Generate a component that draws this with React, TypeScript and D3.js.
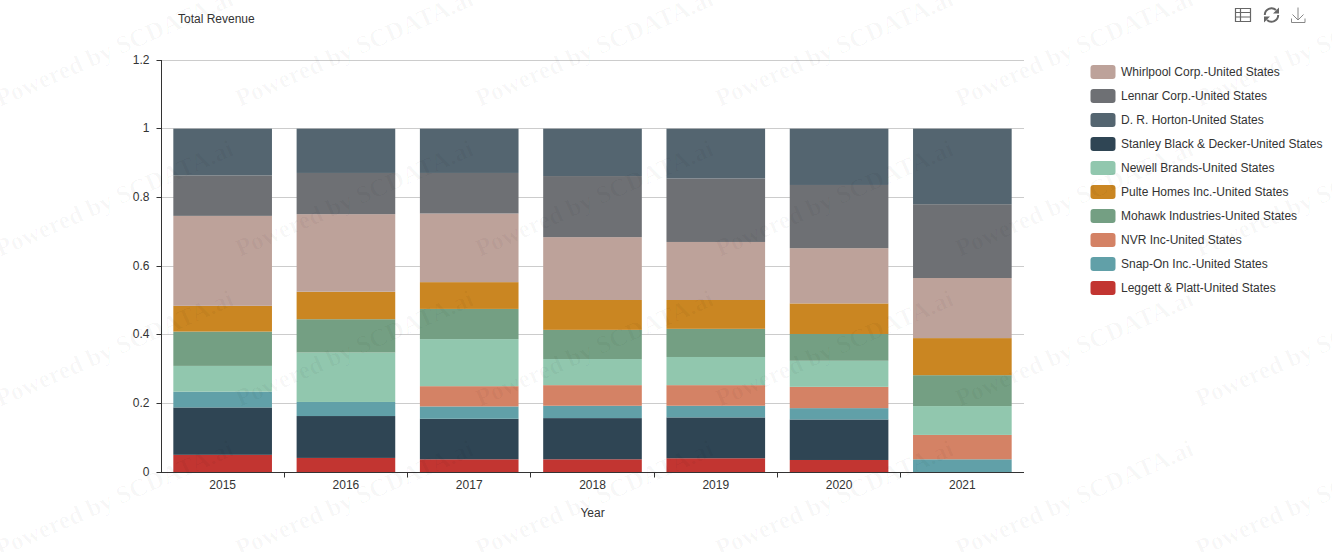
import { useEffect, useRef } from 'react'
import * as d3 from 'd3'

const years = ['2015', '2016', '2017', '2018', '2019', '2020', '2021']

const leggett = [0.050, 0.041, 0.037, 0.037, 0.040, 0.035, 0]
const stanley = [0.138, 0.122, 0.118, 0.120, 0.119, 0.118, 0]
const snapOn = [0.046, 0.041, 0.036, 0.036, 0.034, 0.033, 0.037]
const nvr = [0, 0, 0.059, 0.060, 0.060, 0.062, 0.071]
const newell = [0.075, 0.144, 0.137, 0.076, 0.082, 0.076, 0.084]
const mohawk = [0.100, 0.097, 0.088, 0.085, 0.082, 0.078, 0.090]
const pulte = [0.075, 0.080, 0.078, 0.087, 0.084, 0.089, 0.108]
const whirlpool = [0.262, 0.226, 0.200, 0.183, 0.169, 0.161, 0.175]
const lennar = [0.118, 0.120, 0.118, 0.178, 0.185, 0.184, 0.215]
const horton = [0.136, 0.129, 0.129, 0.138, 0.145, 0.164, 0.220]

// bottom to top, as stacked
const stackOrder = ['leggett', 'stanley', 'snapOn', 'nvr', 'newell', 'mohawk', 'pulte', 'whirlpool', 'lennar', 'horton']
const seriesValues: Record<string, number[]> = { leggett, stanley, snapOn, nvr, newell, mohawk, pulte, whirlpool, lennar, horton }

const legendKeys = ['whirlpool', 'lennar', 'horton', 'stanley', 'newell', 'pulte', 'mohawk', 'nvr', 'snapOn', 'leggett']
const seriesNames: Record<string, string> = {
  whirlpool: 'Whirlpool Corp.-United States',
  lennar: 'Lennar Corp.-United States',
  horton: 'D. R. Horton-United States',
  stanley: 'Stanley Black & Decker-United States',
  newell: 'Newell Brands-United States',
  pulte: 'Pulte Homes Inc.-United States',
  mohawk: 'Mohawk Industries-United States',
  nvr: 'NVR Inc-United States',
  snapOn: 'Snap-On Inc.-United States',
  leggett: 'Leggett & Platt-United States'
}
const seriesColors: Record<string, string> = {
  whirlpool: '#bda29a',
  lennar: '#6e7074',
  horton: '#546570',
  stanley: '#2f4554',
  newell: '#91c7ae',
  pulte: '#ca8622',
  mohawk: '#749f83',
  nvr: '#d48265',
  snapOn: '#61a0a8',
  leggett: '#c23531'
}

const yTicks = [0, 0.2, 0.4, 0.6, 0.8, 1, 1.2]

const width = 1332
const height = 552
const fontFamily = '"Liberation Sans", Arial, sans-serif'

// crisp 1px lines
const snap = (v: number) => Math.floor(v) + 0.5

export default function App() {
  const svgRef = useRef<SVGSVGElement>(null)

  useEffect(() => {
    if (!svgRef.current) return

    const svg = d3.select(svgRef.current)
    svg.selectAll('*').remove()
    svg.attr('font-family', fontFamily)

    const xScale = d3.scaleBand()
      .domain(years)
      .range([161, 1024])
      .paddingInner(0.2)
      .paddingOuter(0.1)

    const yScale = d3.scaleLinear()
      .domain([0, 1.2])
      .range([472, 60])

    svg.append('text')
      .attr('x', 178)
      .attr('y', 23)
      .attr('font-size', 12)
      .attr('fill', '#333')
      .text('Total Revenue')

    // grid
    svg.append('g')
      .selectAll('line')
      .data(yTicks.filter(d => d > 0))
      .enter().append('line')
      .attr('x1', 161.5)
      .attr('x2', 1024)
      .attr('y1', d => snap(yScale(d)))
      .attr('y2', d => snap(yScale(d)))
      .attr('stroke', '#ccc')

    // stacked bars
    const rows = years.map((year, i) => {
      const row: Record<string, number | string> = { year }
      stackOrder.forEach(k => { row[k] = seriesValues[k][i] })
      return row
    })
    const stacked = d3.stack<Record<string, number | string>>().keys(stackOrder)(rows as any)

    svg.append('g')
      .selectAll('g')
      .data(stacked)
      .enter().append('g')
      .attr('fill', d => seriesColors[d.key])
      .selectAll('rect')
      .data(d => d)
      .enter().append('rect')
      .attr('x', d => xScale(d.data.year as string) || 0)
      .attr('y', d => yScale(d[1]))
      .attr('width', xScale.bandwidth())
      .attr('height', d => yScale(d[0]) - yScale(d[1]))

    // axes
    const boundaries = d3.range(years.length + 1).map(String)
    const xAxisScale = d3.scalePoint()
      .domain(boundaries)
      .range([161, 1024])

    const xAxis = svg.append('g')
      .attr('transform', 'translate(0,472.5)')
      .call(d3.axisBottom(xAxisScale)
        .offset(0)
        .tickValues(boundaries.slice(1, -1))
        .tickSizeInner(5)
        .tickSizeOuter(0)
        .tickFormat(() => ''))
    xAxis.select('.domain').attr('stroke', '#333')
    xAxis.selectAll<SVGGElement, string>('.tick')
      .attr('transform', d => `translate(${snap(xAxisScale(d) || 0)},0)`)
    xAxis.selectAll('.tick line').attr('stroke', '#333')

    svg.append('g')
      .selectAll('text')
      .data(years)
      .enter().append('text')
      .attr('x', d => (xScale(d) || 0) + xScale.bandwidth() / 2)
      .attr('y', 489)
      .attr('text-anchor', 'middle')
      .attr('font-size', 12)
      .attr('fill', '#333')
      .text(d => d)

    const yAxis = svg.append('g')
      .attr('transform', 'translate(161.5,0)')
      .call(d3.axisLeft(yScale)
        .offset(0)
        .tickValues(yTicks)
        .tickSizeInner(5)
        .tickSizeOuter(0)
        .tickPadding(7)
        .tickFormat(d => String(d)))
    yAxis.select('.domain').attr('stroke', '#333')
    yAxis.selectAll<SVGGElement, number>('.tick')
      .attr('transform', d => `translate(0,${snap(yScale(d))})`)
    yAxis.selectAll('.tick line').attr('stroke', '#333')
    yAxis.selectAll('.tick text')
      .attr('font-size', 12)
      .attr('font-family', fontFamily)
      .attr('fill', '#333')

    svg.append('text')
      .attr('x', 592.5)
      .attr('y', 517)
      .attr('text-anchor', 'middle')
      .attr('font-size', 12)
      .attr('fill', '#333')
      .text('Year')

    // legend
    const legend = svg.append('g')
      .selectAll('g')
      .data(legendKeys)
      .enter().append('g')
      .attr('transform', (_, i) => `translate(1090.5,${65 + i * 24})`)
    legend.append('rect')
      .attr('width', 25)
      .attr('height', 14)
      .attr('rx', 3)
      .attr('fill', d => seriesColors[d])
    legend.append('text')
      .attr('x', 30.5)
      .attr('y', 11)
      .attr('font-size', 12)
      .attr('fill', '#333')
      .text(d => seriesNames[d])

    // toolbox icons
    const tools = svg.append('g')
      .attr('fill', 'none')
      .attr('stroke', '#666')
    tools.append('path')
      .attr('d', 'M1235.5 8.5h15v13h-15z M1235.5 12.5h15 M1235.5 17h15 M1240.5 8.5v13')
      .attr('stroke-width', 1.2)
    tools.append('path')
      .attr('d', 'M1264.8 15a6.7 6.7 0 0 1 11.2-5 M1278.2 15a6.7 6.7 0 0 1-11.2 5')
      .attr('stroke-width', 2)
    tools.append('path')
      .attr('d', 'M1279 7.5v6h-6z M1264 22.5v-6h6z')
      .attr('fill', '#666')
      .attr('stroke', 'none')
    tools.append('path')
      .attr('d', 'M1298 7.5v12.5 M1292.5 14.5l5.5 5.5 5.5-5.5 M1291.5 18.5v4h13.5v-4')
      .attr('stroke', '#888')

    // watermark over everything
    const marks: [number, number][] = []
    d3.range(0, 6).forEach(c => d3.range(0, 4).forEach(r => marks.push([c * 240, 107 + r * 150])))
    svg.append('g')
      .attr('pointer-events', 'none')
      .selectAll('text')
      .data(marks)
      .enter().append('text')
      .attr('transform', d => `translate(${d[0]},${d[1]}) rotate(-23.5)`)
      .attr('font-family', '"Liberation Serif", "DejaVu Serif", serif')
      .attr('font-weight', 'bold')
      .attr('font-size', 25)
      .attr('fill', 'rgba(0,0,0,0.03)')
      .text('Powered by SCDATA.ai')
  }, [])

  return (
    <svg
      ref={svgRef}
      width={width}
      height={height}
      style={{ position: 'absolute', left: 0, top: 0 }}
    />
  )
}
